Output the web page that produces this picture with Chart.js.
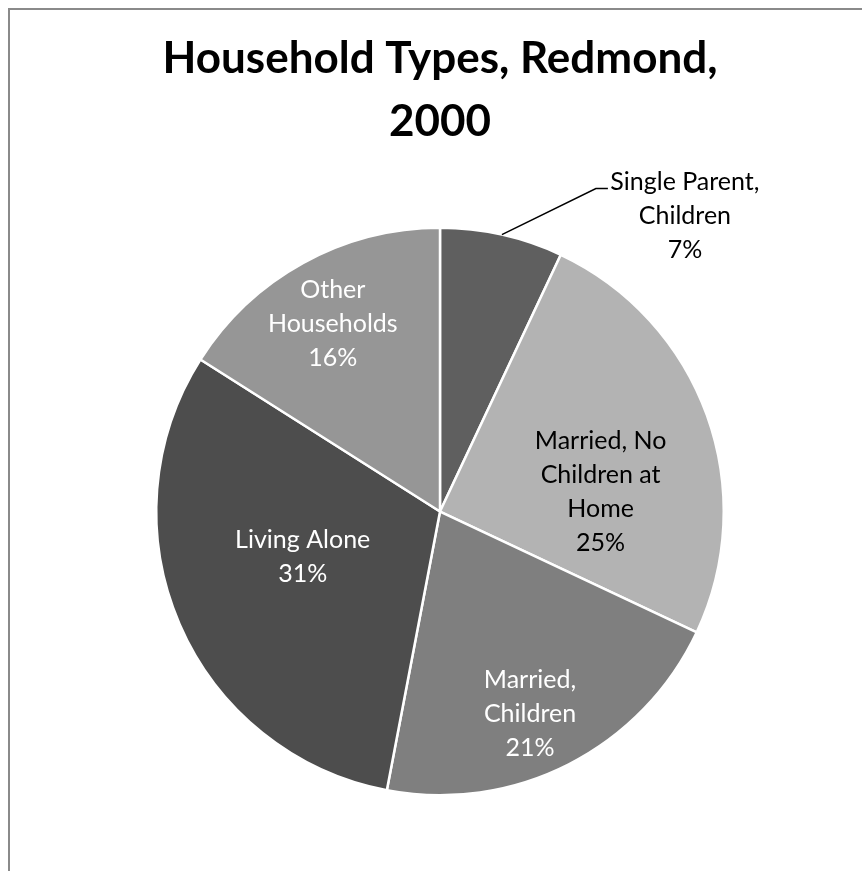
<!DOCTYPE html>
<html>
<head>
  <meta charset="utf-8">
  <title>Household Types, Redmond, 2000</title>
  <script src="https://cdn.jsdelivr.net/npm/chart.js@4.4.0/dist/chart.umd.min.js"></script>
  <style>
    html, body { margin: 0; padding: 0; background: #fff; overflow: hidden; }
    #frame {
      position: absolute; left: 8px; top: 8px; width: 900px; height: 900px;
      border-left: 2px solid #8a8a8a; border-top: 2px solid #8a8a8a;
    }
    #wrap { position: absolute; left: 0; top: 0; width: 862px; height: 871px; }
  </style>
</head>
<body>
  <div id="frame"></div>
  <div id="wrap"><canvas id="pieChart" width="862" height="871"></canvas></div>

  <script>
    // data
    const categories = [
      ['Single Parent,', 'Children'],
      ['Married, No', 'Children at', 'Home'],
      ['Married,', 'Children'],
      ['Living Alone'],
      ['Other', 'Households']
    ];
    const percents = [7, 25, 21, 31, 16];
    const sliceColors = ['#5f5f5f', '#b3b3b3', '#7f7f7f', '#4d4d4d', '#969696'];
    const labelColors = ['#000', '#000', '#fff', '#fff', '#fff'];

    // where each label sits: fraction of radius and angle nudge (degrees)
    const labelPlace = [
      null,               // outside, with leader line
      { r: 0.57, da: 13 },
      { r: 0.78, da: 3 },
      { r: 0.51, da: 5 },
      { r: 0.76, da: -1 }
    ];

    const labelFont = '25px Lato';
    const lineH = 34;

    function drawLines(ctx, lines, x, y, color) {
      ctx.fillStyle = color;
      const top = y - (lines.length - 1) * lineH / 2;
      lines.forEach((t, i) => ctx.fillText(t, x, top + i * lineH));
    }

    const sliceLabels = {
      id: 'sliceLabels',
      afterDatasetsDraw(chart) {
        const ctx = chart.ctx;
        const arcs = chart.getDatasetMeta(0).data;
        ctx.save();
        ctx.font = labelFont;
        ctx.textAlign = 'center';
        ctx.textBaseline = 'middle';
        arcs.forEach((arc, i) => {
          const p = arc.getProps(['x', 'y', 'startAngle', 'endAngle', 'outerRadius'], true);
          const mid = (p.startAngle + p.endAngle) / 2;
          const lines = categories[i].concat([percents[i] + '%']);
          if (!labelPlace[i]) {
            // leader line from slice edge up and right to the label
            const ex = p.x + Math.cos(mid) * p.outerRadius;
            const ey = p.y + Math.sin(mid) * p.outerRadius;
            const bx = ex + 94, by = ey - 46;
            ctx.strokeStyle = '#000';
            ctx.lineWidth = 1.5;
            ctx.beginPath();
            ctx.moveTo(ex, ey);
            ctx.lineTo(bx, by);
            ctx.lineTo(bx + 12, by);
            ctx.stroke();
            drawLines(ctx, lines, bx + 89, by + 27, labelColors[i]);
            return;
          }
          const a = mid + labelPlace[i].da * Math.PI / 180;
          const r = p.outerRadius * labelPlace[i].r;
          drawLines(ctx, lines, p.x + Math.cos(a) * r, p.y + Math.sin(a) * r, labelColors[i]);
        });
        ctx.restore();
      }
    };

    const ctx = document.getElementById('pieChart').getContext('2d');
    new Chart(ctx, {
      type: 'pie',
      data: {
        labels: categories.map(c => c.join(' ')),
        datasets: [{
          data: percents,
          backgroundColor: sliceColors,
          borderColor: '#fff',
          borderWidth: 2.5
        }]
      },
      options: {
        responsive: false,
        animation: false,
        layout: { padding: { left: 155, right: 137, top: 17, bottom: 74 } },
        plugins: {
          legend: { display: false },
          tooltip: { enabled: false },
          title: {
            display: true,
            text: ['Household Types, Redmond,', '2000'],
            color: '#000',
            font: { family: 'Lato', size: 44, weight: 'bold', lineHeight: 1.432 },
            padding: { top: 10, bottom: 73 }
          }
        }
      },
      plugins: [sliceLabels]
    });
  </script>
</body>
</html>
